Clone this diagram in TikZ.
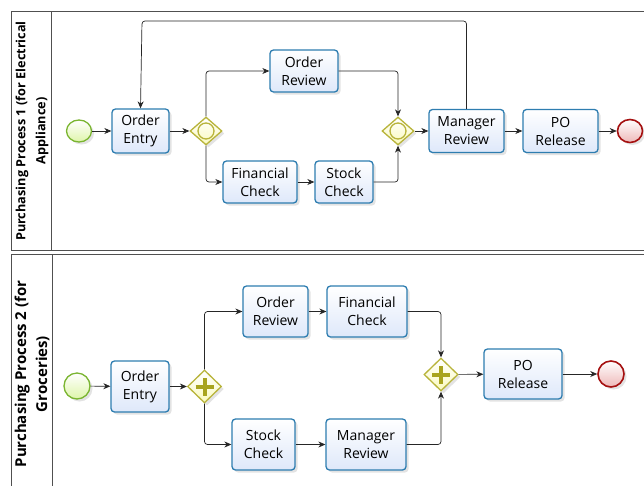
\documentclass[tikz,border=0pt]{standalone}
\usepackage{fontspec}
\setmainfont{Open Sans}
\usetikzlibrary{shapes.geometric,shadows,arrows.meta}
\definecolor{taskb}{RGB}{46,125,176}
\definecolor{taskf}{RGB}{222,232,250}
\definecolor{gwb}{RGB}{184,180,58}
\definecolor{gwf}{RGB}{250,250,190}
\definecolor{plusc}{RGB}{168,164,30}
\definecolor{stb}{RGB}{122,181,48}
\definecolor{stf}{RGB}{222,245,170}
\definecolor{enb}{RGB}{165,16,16}
\definecolor{enf}{RGB}{238,184,184}
\definecolor{poolc}{RGB}{80,80,80}
\tikzset{
  shad/.style={drop shadow={opacity=0.22,shadow xshift=2.5pt,shadow yshift=-2.5pt}},
  task/.style={rectangle, rounded corners=3.5pt, draw=taskb, line width=1.3pt,
    top color=white, bottom color=taskf, align=center, inner sep=0pt,
    font=\fontsize{14}{18}\selectfont, shad},
  gw/.style={diamond, draw=gwb, line width=1.3pt, top color=white, bottom color=gwf,
    inner sep=0pt, minimum width=32pt, minimum height=28pt, aspect=1.14, shad},
  startev/.style={ellipse, draw=stb, line width=1.3pt, top color=white, bottom color=stf,
    inner sep=0pt, minimum width=25pt, minimum height=22pt, shad},
  endev/.style={ellipse, draw=enb, line width=1.6pt, top color=white, bottom color=enf,
    inner sep=0pt, minimum width=25pt, minimum height=23pt, shad},
  flow/.style={draw=black!85, line width=0.7pt, rounded corners=3pt,
    -{Stealth[length=7pt,width=6pt]}},
  pool/.style={draw=poolc, line width=0.9pt},
  plbl/.style={rotate=90, align=center, font=\fontsize{12.7}{20}\selectfont\bfseries},
}
\begin{document}
\begin{tikzpicture}[x=1pt,y=-1pt]
\useasboundingbox (0,0) rectangle (644,485);
\clip (0,0) rectangle (644,485);
\fill[white] (0,0) rectangle (644,485);
% pools
\draw[pool] (660,11) -- (11,11) -- (11,250) -- (660,250);
\draw[pool] (51,11) -- (51,250);
\draw[pool] (660,254) -- (11,254) -- (11,500);
\draw[pool] (52,254) -- (52,500);
\node[plbl] (lbl1) at (32,131) {Purchasing Process 1 (for Electrical\\Appliance)};
\node[plbl, font=\fontsize{15}{21}\selectfont\bfseries] (lbl2) at (32,374) {Purchasing Process 2 (for\\Groceries)};

% ---------- pool 1 ----------
\node[startev] (s1) at (79,131) {};
\node[task, minimum width=57pt, minimum height=44pt] (oe1) at (140.5,131) {Order\\Entry};
\node[gw] (g1) at (206,131) {};
\draw[gwb, line width=1.3pt] (g1.center) circle (8pt);
\node[task, minimum width=68pt, minimum height=42pt] (or1) at (304,71) {Order\\Review};
\node[task, minimum width=74pt, minimum height=42pt] (fc1) at (260,182) {Financial\\Check};
\node[task, minimum width=58pt, minimum height=42pt] (sc1) at (344,182) {Stock\\Check};
\node[gw] (g2) at (398,131) {};
\draw[gwb, line width=1.3pt] (g2.center) circle (8pt);
\node[task, minimum width=75pt, minimum height=43pt] (mr1) at (466.5,131) {Manager\\Review};
\node[task, minimum width=75pt, minimum height=43pt] (po1) at (560.5,131) {PO\\Release};
\node[endev] (e1) at (630,131) {};

\draw[flow] (s1) -- (oe1);
\draw[flow] (oe1) -- (g1);
\draw[flow] (g1.north) |- (or1.west);
\draw[flow] (g1.south) |- (fc1.west);
\draw[flow] (fc1) -- (sc1);
\draw[flow] (or1.east) -| (g2.north);
\draw[flow] (sc1.east) -| (g2.south);
\draw[flow] (g2) -- (mr1);
\draw[flow] (mr1) -- (po1);
\draw[flow] (po1) -- (e1);
\coordinate (lpA) at (466.5,21);
\coordinate (lpB) at (142,21);
\draw[flow] (mr1.north) -- (lpA) -- (lpB) -- (oe1.north);

% ---------- pool 2 ----------
\node[startev, minimum width=26pt, minimum height=26pt] (s2) at (77,386) {};
\node[task, minimum width=58pt, minimum height=51pt] (oe2) at (140,386.5) {Order\\Entry};
\node[gw, minimum width=34pt, minimum height=33pt, aspect=1.03] (p1) at (204.5,386.5) {};
\draw[plusc, line width=4pt] ([xshift=-9pt]p1.center) -- ([xshift=9pt]p1.center)
  ([yshift=-9pt]p1.center) -- ([yshift=9pt]p1.center);
\node[task, minimum width=65pt, minimum height=51pt] (or2) at (275.5,311.5) {Order\\Review};
\node[task, minimum width=80pt, minimum height=51pt] (fc2) at (367,311.5) {Financial\\Check};
\node[task, minimum width=63pt, minimum height=51pt] (sc2) at (263.5,444.5) {Stock\\Check};
\node[task, minimum width=80pt, minimum height=51pt] (mr2) at (366,444.5) {Manager\\Review};
\node[gw, minimum width=34pt, minimum height=33pt, aspect=1.03] (p2) at (441,374.5) {};
\draw[plusc, line width=4pt] ([xshift=-9pt]p2.center) -- ([xshift=9pt]p2.center)
  ([yshift=-9pt]p2.center) -- ([yshift=9pt]p2.center);
\node[task, minimum width=78pt, minimum height=50pt] (po2) at (523,374) {PO\\Release};
\node[endev, minimum width=26pt, minimum height=26pt] (e2) at (611,374) {};

\draw[flow] (s2) -- (oe2);
\draw[flow] (oe2) -- (p1);
\draw[flow] (p1.north) |- (or2.west);
\draw[flow] (p1.south) |- (sc2.west);
\draw[flow] (or2) -- (fc2);
\draw[flow] (sc2) -- (mr2);
\draw[flow] (fc2.east) -| (p2.north);
\draw[flow] (mr2.east) -| (p2.south);
\draw[flow] (p2) -- (po2);
\draw[flow] (po2) -- (e2);
\end{tikzpicture}
\end{document}
